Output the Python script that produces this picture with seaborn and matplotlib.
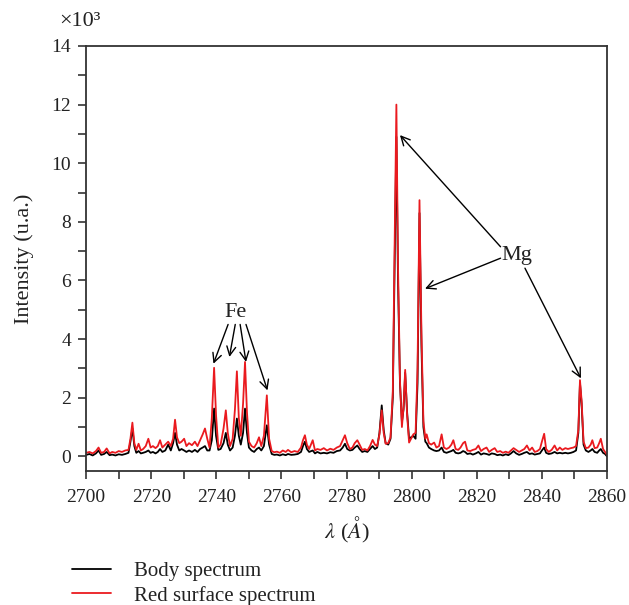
import pandas as pd
import matplotlib
matplotlib.use('Agg')
import matplotlib.pyplot as plt
import seaborn as sns

# wavelength grid (Å) and intensities (x10^3 u.a.)
wavelength = [
    2700, 2701, 2702, 2703, 2703.8, 2704.6, 2705.5, 2706.3, 2707.2, 2708,
    2709, 2710, 2711, 2712, 2713, 2713.6, 2714.2, 2714.8, 2715.4, 2716.1,
    2716.8, 2717.5, 2718.3, 2719.1, 2719.8, 2720.5, 2721.3, 2722.0, 2722.7, 2723.4,
    2724.3, 2725.2, 2726.0, 2726.7, 2727.3, 2727.9, 2728.6, 2729.3, 2730.1, 2730.8,
    2731.6, 2732.5, 2733.4, 2734.2, 2735.0, 2735.8, 2736.5, 2737.2, 2737.9, 2738.6,
    2739.3, 2739.9, 2740.6, 2741.3, 2742.2, 2742.9, 2743.5, 2744.2, 2745.0, 2745.7,
    2746.3, 2746.9, 2747.5, 2748.2, 2748.8, 2749.4, 2750.0, 2750.8, 2751.6, 2752.4,
    2753.1, 2753.8, 2754.6, 2755.5, 2756.2, 2757.0, 2757.8, 2758.6, 2759.5, 2760.4,
    2761.3, 2762.0, 2763.0, 2764.0, 2765.0, 2766.0, 2766.6, 2767.2, 2767.8, 2768.5,
    2769.6, 2770.3, 2771.0, 2772.0, 2773.0, 2774.0, 2775.0, 2776.0, 2777.0, 2778.0,
    2778.8, 2779.5, 2780.2, 2781.0, 2781.8, 2782.5, 2783.3, 2784.0, 2784.8, 2785.6,
    2786.4, 2787.2, 2788.0, 2788.7, 2789.4, 2790.1, 2790.8, 2791.4, 2792.0, 2792.8,
    2793.5, 2794.2, 2794.8, 2795.3, 2795.8, 2796.4, 2797.0, 2797.5, 2798.0, 2798.6,
    2799.2, 2799.8, 2800.5, 2801.2, 2801.8, 2802.4, 2803.0, 2803.6, 2804.2, 2804.6,
    2805.3, 2806.0, 2806.9, 2807.6, 2808.4, 2809.2, 2809.9, 2810.7, 2811.5, 2812.2,
    2812.8, 2813.5, 2814.3, 2815.0, 2815.8, 2816.4, 2817.1, 2818.0, 2818.8, 2819.7,
    2820.5, 2821.3, 2822.1, 2823.0, 2823.8, 2824.6, 2825.5, 2826.3, 2827.2, 2828.0,
    2828.9, 2829.7, 2830.5, 2831.3, 2832.1, 2833.0, 2833.8, 2834.6, 2835.4, 2836.2,
    2837.0, 2837.8, 2838.6, 2839.4, 2840.0, 2840.7, 2841.3, 2842.1, 2843.0, 2843.9,
    2844.7, 2845.5, 2846.3, 2847.2, 2848.0, 2848.9, 2849.7, 2850.5, 2851.2, 2851.7,
    2852.2, 2852.8, 2853.5, 2854.3, 2855.0, 2855.5, 2856.2, 2857.0, 2857.6, 2858.1,
    2858.8, 2859.4, 2860.0,
]

body = [
    0.05, 0.08, 0.03, 0.10, 0.20, 0.05, 0.08, 0.15, 0.04, 0.06,
    0.03, 0.07, 0.05, 0.08, 0.12, 0.50, 0.95, 0.35, 0.12, 0.18,
    0.10, 0.12, 0.15, 0.20, 0.12, 0.15, 0.10, 0.15, 0.25, 0.15,
    0.20, 0.40, 0.20, 0.45, 0.80, 0.40, 0.20, 0.25, 0.20, 0.15,
    0.20, 0.15, 0.22, 0.15, 0.25, 0.30, 0.35, 0.20, 0.20, 0.55,
    1.63, 0.70, 0.22, 0.25, 0.45, 0.80, 0.40, 0.20, 0.30, 0.70,
    1.29, 0.70, 0.40, 0.80, 1.63, 0.80, 0.30, 0.20, 0.15, 0.25,
    0.30, 0.20, 0.35, 1.06, 0.40, 0.08, 0.05, 0.06, 0.03, 0.07,
    0.04, 0.08, 0.05, 0.06, 0.08, 0.15, 0.35, 0.50, 0.25, 0.15,
    0.20, 0.10, 0.15, 0.10, 0.12, 0.10, 0.14, 0.12, 0.18, 0.20,
    0.30, 0.43, 0.25, 0.20, 0.22, 0.30, 0.37, 0.25, 0.15, 0.18,
    0.15, 0.25, 0.35, 0.25, 0.30, 0.80, 1.74, 0.90, 0.45, 0.40,
    0.60, 2.00, 7.00, 10.90, 6.00, 2.50, 1.17, 1.60, 2.85, 1.50,
    0.60, 0.65, 0.70, 0.60, 2.50, 8.30, 3.80, 1.00, 0.50, 0.45,
    0.30, 0.25, 0.20, 0.18, 0.20, 0.30, 0.15, 0.12, 0.15, 0.18,
    0.22, 0.12, 0.10, 0.12, 0.18, 0.15, 0.08, 0.10, 0.06, 0.10,
    0.15, 0.06, 0.10, 0.08, 0.05, 0.10, 0.08, 0.04, 0.06, 0.03,
    0.07, 0.04, 0.10, 0.18, 0.10, 0.05, 0.08, 0.12, 0.15, 0.08,
    0.10, 0.06, 0.08, 0.10, 0.20, 0.30, 0.12, 0.08, 0.10, 0.15,
    0.10, 0.12, 0.10, 0.12, 0.10, 0.12, 0.15, 0.20, 0.80, 2.50,
    1.80, 0.40, 0.20, 0.15, 0.20, 0.25, 0.15, 0.12, 0.20, 0.25,
    0.12, 0.08, 0.00,
]

red_surface = [
    0.12, 0.15, 0.10, 0.18, 0.30, 0.12, 0.15, 0.27, 0.10, 0.15,
    0.12, 0.18, 0.15, 0.20, 0.22, 0.60, 1.15, 0.45, 0.22, 0.43,
    0.20, 0.25, 0.35, 0.60, 0.30, 0.35, 0.28, 0.35, 0.55, 0.30,
    0.40, 0.50, 0.35, 0.60, 1.25, 0.65, 0.45, 0.50, 0.60, 0.35,
    0.45, 0.38, 0.50, 0.35, 0.55, 0.75, 0.95, 0.60, 0.30, 1.30,
    3.02, 1.40, 0.30, 0.40, 0.95, 1.57, 0.80, 0.35, 0.60, 1.60,
    2.90, 1.30, 0.70, 1.80, 3.22, 1.50, 0.50, 0.35, 0.30, 0.45,
    0.65, 0.35, 0.70, 2.08, 0.60, 0.18, 0.14, 0.16, 0.12, 0.20,
    0.15, 0.22, 0.14, 0.18, 0.15, 0.30, 0.55, 0.72, 0.40, 0.25,
    0.55, 0.20, 0.25, 0.22, 0.28, 0.20, 0.26, 0.22, 0.30, 0.35,
    0.55, 0.72, 0.45, 0.25, 0.30, 0.45, 0.55, 0.40, 0.22, 0.25,
    0.20, 0.35, 0.56, 0.40, 0.35, 0.75, 1.57, 0.80, 0.43, 0.45,
    0.65, 2.20, 7.50, 12.00, 6.50, 2.60, 1.00, 1.70, 2.95, 1.40,
    0.47, 0.60, 0.75, 0.80, 3.00, 8.74, 4.20, 1.20, 0.60, 0.75,
    0.45, 0.40, 0.47, 0.30, 0.35, 0.75, 0.30, 0.25, 0.30, 0.40,
    0.55, 0.25, 0.22, 0.30, 0.45, 0.50, 0.20, 0.18, 0.22, 0.25,
    0.37, 0.18, 0.25, 0.30, 0.15, 0.22, 0.28, 0.15, 0.18, 0.12,
    0.16, 0.12, 0.20, 0.28, 0.22, 0.15, 0.20, 0.25, 0.37, 0.20,
    0.30, 0.15, 0.18, 0.25, 0.50, 0.77, 0.25, 0.15, 0.22, 0.37,
    0.20, 0.30, 0.22, 0.28, 0.25, 0.28, 0.30, 0.35, 0.90, 2.60,
    1.90, 0.50, 0.28, 0.30, 0.40, 0.55, 0.28, 0.30, 0.45, 0.60,
    0.25, 0.15, 0.05,
]

x_ticks = [2700, 2720, 2740, 2760, 2780, 2800, 2820, 2840, 2860]
y_ticks = [0, 2, 4, 6, 8, 10, 12, 14]

sns.set_style('ticks')
plt.rcParams['font.family'] = ['Liberation Serif', 'DejaVu Serif']
plt.rcParams['mathtext.fontset'] = 'stix'

df = pd.DataFrame({'wl': wavelength, 'body': body, 'red': red_surface})

fig = plt.figure(figsize=(6.29, 6.05), dpi=100)
ax = fig.add_axes([0.137, 0.2215, 0.828, 0.7025])

sns.lineplot(data=df, x='wl', y='body', ax=ax, color='black', lw=1.3,
             sort=False, estimator=None, label='Body spectrum')
sns.lineplot(data=df, x='wl', y='red', ax=ax, color='#ea1a1f', lw=1.3,
             sort=False, estimator=None, label='Red surface spectrum')

ax.set_xlim(2700, 2860)
ax.set_ylim(-0.5, 14)
ax.set_xticks(x_ticks)
ax.set_yticks(y_ticks)
ax.set_xticks([t + 10 for t in x_ticks[:-1]], minor=True)
ax.set_yticks([t + 1 for t in y_ticks[:-1]], minor=True)
ax.tick_params(axis='both', which='both', direction='out', length=6, width=1.2,
               labelsize=14, color='#333333', labelcolor='#222222', pad=5)
ax.tick_params(axis='x', which='major', pad=7)
for s in ax.spines.values():
    s.set_linewidth(1.3)
    s.set_color('#333333')

ax.set_xlabel('$\\it{λ}$ ($\\it{Å}$)', fontsize=16, color='#222222')
ax.set_ylabel('Intensity (u.a.)', fontsize=16, color='#222222')
ax.xaxis.set_label_coords(0.5, -0.103)
ax.yaxis.set_label_coords(-0.100, 0.5)
fig.text(0.127, 0.965, '×10³', fontsize=16, ha='center', va='center',
         color='#222222')

# annotations
arrow = dict(arrowstyle='->', color='black', lw=1.0, shrinkA=0, shrinkB=0,
             mutation_scale=16)
ax.text(2745.8, 4.92, 'Fe', fontsize=16, ha='center', va='center', color='#222222')
fe_starts = [(2743.6, 4.5), (2745.8, 4.5), (2747.3, 4.5), (2749.1, 4.5)]
fe_ends = [(2739.1, 3.16), (2744.0, 3.39), (2749.1, 3.22), (2755.7, 2.25)]
for st, en in zip(fe_starts, fe_ends):
    ax.annotate('', xy=en, xytext=st, arrowprops=arrow)

ax.text(2832.3, 6.86, 'Mg', fontsize=16, ha='center', va='center', color='#222222')
mg_starts = [(2827.3, 7.15), (2827.3, 6.76), (2834.8, 6.42)]
mg_ends = [(2796.4, 10.96), (2804.1, 5.72), (2852.0, 2.66)]
for st, en in zip(mg_starts, mg_ends):
    ax.annotate('', xy=en, xytext=st, arrowprops=arrow)

handles, labels = ax.get_legend_handles_labels()
ax.get_legend().remove()
fig.legend(handles, labels, loc='upper left', bbox_to_anchor=(0.114, 0.072),
           frameon=False, fontsize=15, handlelength=1.9, handletextpad=1.1,
           labelspacing=0.22, borderpad=0, borderaxespad=0,
           labelcolor='#222222')

fig.savefig('out.png', dpi=100)
